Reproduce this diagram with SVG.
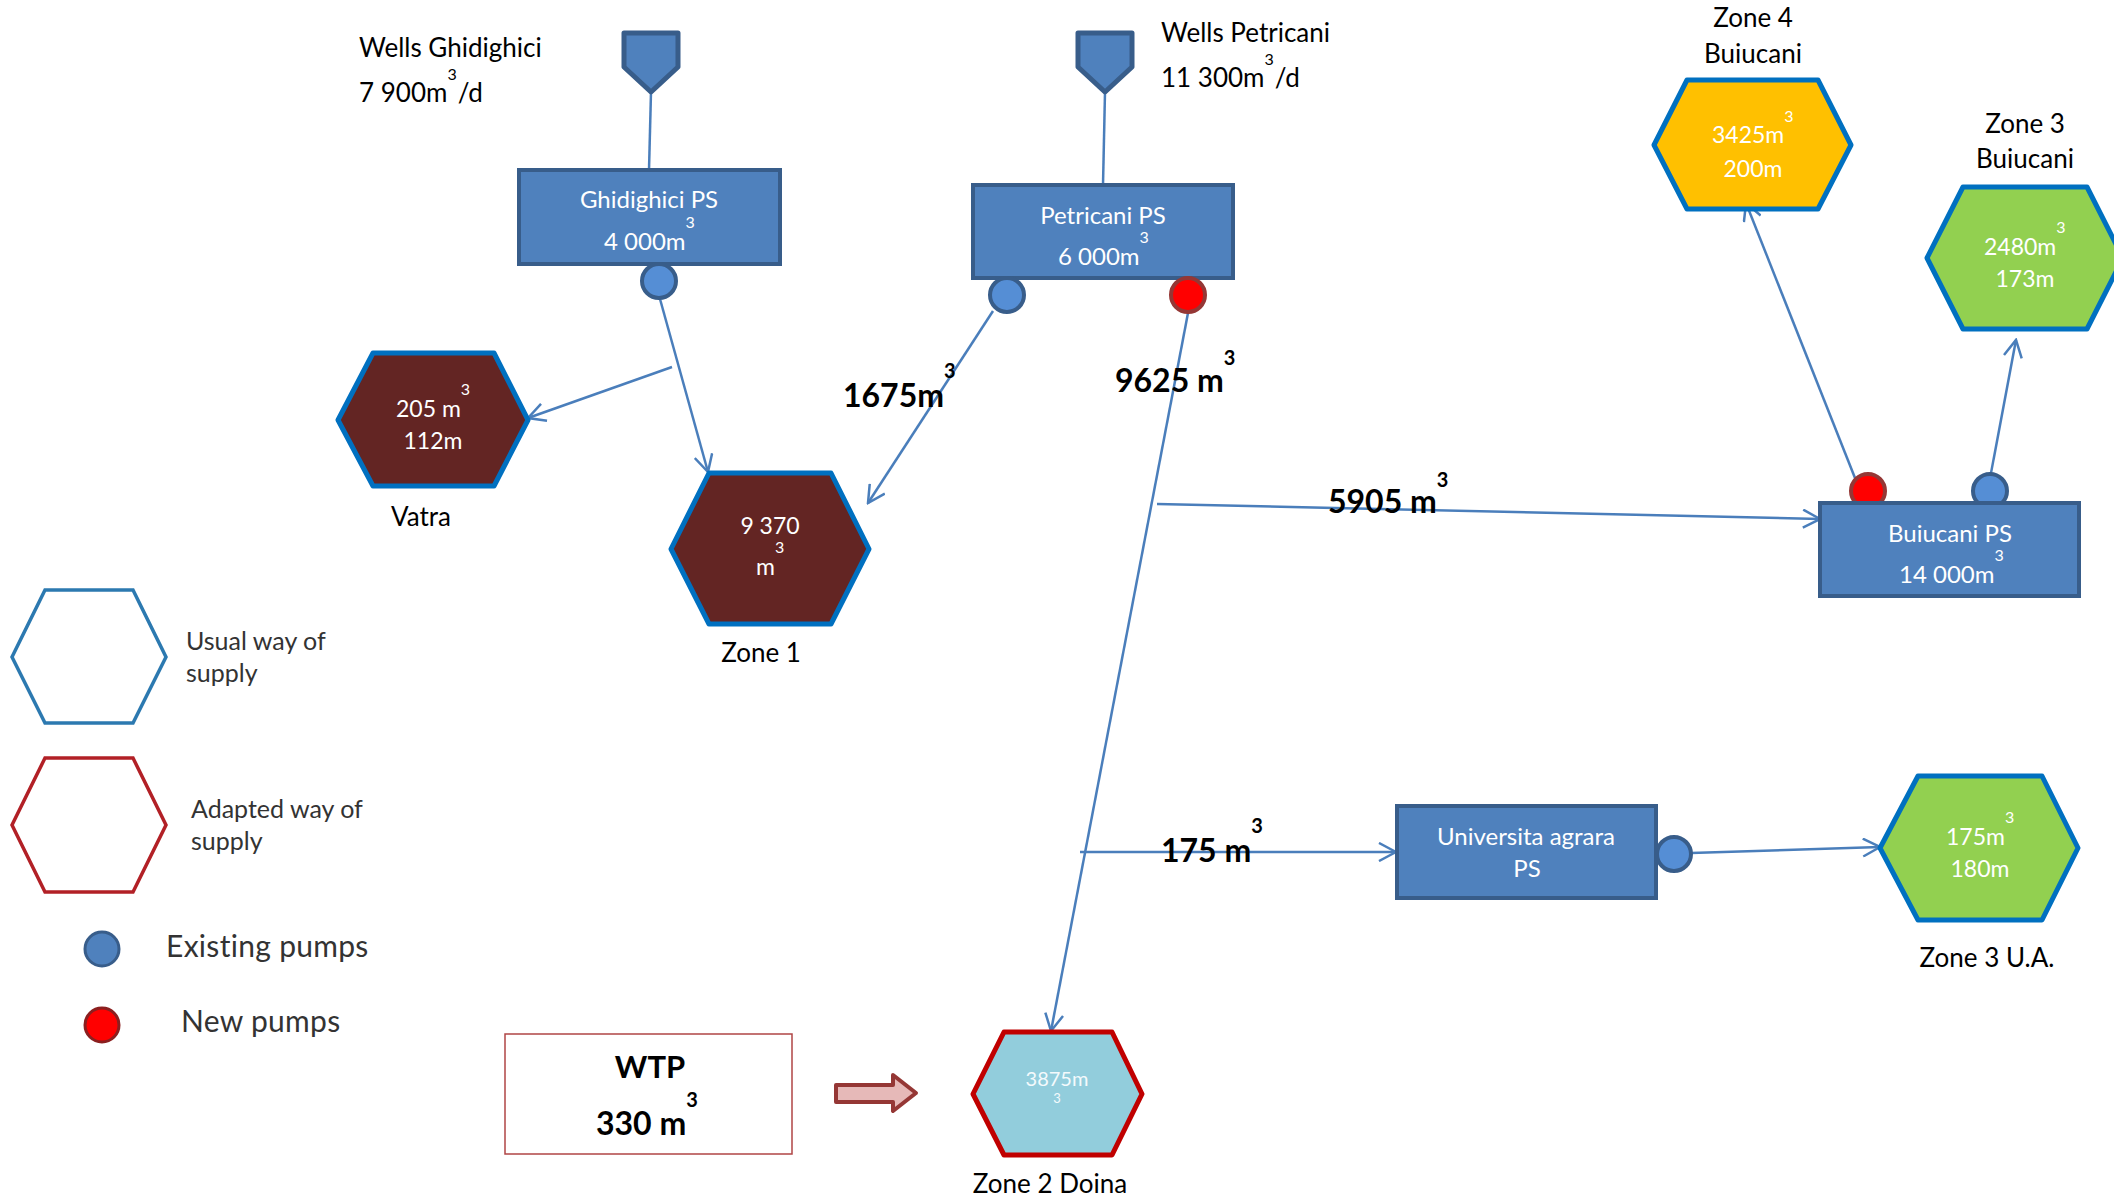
<svg xmlns="http://www.w3.org/2000/svg" width="2114" height="1201" viewBox="0 0 2114 1201">
<defs>
<style>
text{font-family:Lato,"Open Sans","Liberation Sans",sans-serif}
.lbl{font-size:26px;fill:#000}
.in{font-size:24px;fill:#fff}
.hx{font-size:23px;fill:#fff}
.sup{font-size:16px}
.b{font-size:32px;font-weight:bold;fill:#000}
.bs{font-size:20px;font-weight:bold}
.ps{fill:#4f81bd;stroke:#385d8a;stroke-width:4}
.well{fill:#4f81bd;stroke:#385d8a;stroke-width:5;stroke-linejoin:round}
.pe{fill:#558ed5;stroke:#385d8a;stroke-width:4}
.pn{fill:#ff0000;stroke:#953735;stroke-width:4}
.zone{stroke:#0070c0;stroke-width:5;stroke-linejoin:round}
.con{stroke:#4a7ebb;stroke-width:2.5;fill:none}
.arr{marker-end:url(#ah)}
.leg{font-size:25px;fill:#333}
.leg2{font-size:30px;fill:#333;letter-spacing:0.3px}
</style>
<marker id="ah" viewBox="0 0 20 20" refX="18" refY="10" markerWidth="20" markerHeight="20" markerUnits="userSpaceOnUse" orient="auto">
<path d="M1,1 L18,10 L1,19" fill="none" stroke="#4a7ebb" stroke-width="2.5"/>
</marker>
</defs>
<rect width="2114" height="1201" fill="#fff"/>

<g id="connectors">
<line class="con" x1="651" y1="92" x2="649" y2="170"/>
<line class="con" x1="1105" y1="92" x2="1103" y2="185"/>
<line class="con arr" x1="660" y1="299" x2="708" y2="472"/>
<line class="con arr" x1="672" y1="367" x2="528" y2="418"/>
<line class="con arr" x1="993" y1="311" x2="868" y2="503"/>
<line class="con arr" x1="1188" y1="313" x2="1051" y2="1031"/>
<line class="con arr" x1="1157" y1="504" x2="1820" y2="519"/>
<line class="con arr" x1="1080" y1="852" x2="1396" y2="852"/>
<line class="con arr" x1="1691" y1="853" x2="1880" y2="847"/>
<line class="con arr" x1="1855" y1="478" x2="1746" y2="203"/>
<line class="con arr" x1="1991" y1="473" x2="2016" y2="340"/>
<text class="b" x="843" y="407">1675m<tspan class="bs" dy="-29">3</tspan></text>
<text class="b" x="1115" y="392">9625 m<tspan class="bs" dy="-27">3</tspan></text>
<text class="b" x="1328" y="513">5905 m<tspan class="bs" dy="-26">3</tspan></text>
<text class="b" x="1161" y="862">175 m<tspan class="bs" dy="-29">3</tspan></text>
</g>

<g id="wells-ghidighici">
<path class="well" d="M624,33 H678 V67 L651,92 L624,67 Z"/>
<text class="lbl" x="359" y="57">Wells Ghidighici</text>
<text class="lbl" x="359" y="102">7 900m<tspan class="sup" dy="-22">3</tspan><tspan dy="22" dx="1">/d</tspan></text>
</g>

<g id="wells-petricani">
<path class="well" d="M1078,33 H1132 V67 L1105,92 L1078,67 Z"/>
<text class="lbl" x="1161" y="42">Wells Petricani</text>
<text class="lbl" x="1161" y="87">11 300m<tspan class="sup" dy="-22">3</tspan><tspan dy="22" dx="1">/d</tspan></text>
</g>

<g id="ghidighici-ps">
<rect class="ps" x="519" y="170" width="261" height="94"/>
<text class="in" x="649" y="208" text-anchor="middle">Ghidighici PS</text>
<text class="in" x="604" y="250">4 000m<tspan class="sup" dy="-22">3</tspan></text>
<circle class="pe" cx="659" cy="281" r="17"/>
</g>

<g id="petricani-ps">
<rect class="ps" x="973" y="185" width="260" height="93"/>
<text class="in" x="1103" y="224" text-anchor="middle">Petricani PS</text>
<text class="in" x="1058" y="265">6 000m<tspan class="sup" dy="-22">3</tspan></text>
<circle class="pe" cx="1007" cy="295" r="17"/>
<circle class="pn" cx="1188" cy="295" r="17"/>
</g>

<g id="buiucani-ps">
<circle class="pn" cx="1868" cy="491" r="17"/>
<circle class="pe" cx="1990" cy="491" r="17"/>
<rect class="ps" x="1820" y="503" width="259" height="93"/>
<text class="in" x="1950" y="542" text-anchor="middle">Buiucani PS</text>
<text class="in" x="1899" y="583">14 000m<tspan class="sup" dy="-22">3</tspan></text>
</g>

<g id="universita-ps">
<circle class="pe" cx="1674" cy="854" r="17"/>
<rect class="ps" x="1397" y="806" width="259" height="92"/>
<text class="in" x="1526" y="845" text-anchor="middle">Universita agrara</text>
<text class="in" x="1527" y="877" text-anchor="middle">PS</text>
</g>

<g id="vatra">
<polygon class="zone" fill="#632523" points="338,420 373,353 494,353 528,420 494,486 373,486"/>
<text class="hx" x="396" y="417">205 m<tspan class="sup" dy="-22">3</tspan></text>
<text class="hx" x="433" y="449" text-anchor="middle">112m</text>
<text class="lbl" x="421" y="526" text-anchor="middle">Vatra</text>
</g>

<g id="zone1">
<polygon class="zone" fill="#632523" points="671,549 709,473 831,473 869,549 831,624 709,624"/>
<text class="hx" x="770" y="534" text-anchor="middle">9 370</text>
<text class="hx" x="756" y="575">m<tspan class="sup" dy="-22">3</tspan></text>
<text class="lbl" x="761" y="662" text-anchor="middle">Zone 1</text>
</g>

<g id="zone4">
<polygon class="zone" fill="#ffc000" points="1654,145 1687,80 1818,80 1851,145 1818,209 1687,209"/>
<text class="hx" x="1712" y="143">3425m<tspan class="sup" dy="-21">3</tspan></text>
<text class="hx" x="1753" y="177" text-anchor="middle">200m</text>
<text class="lbl" x="1753" y="27" text-anchor="middle" font-size="27">Zone 4</text>
<text class="lbl" x="1753" y="63" text-anchor="middle">Buiucani</text>
</g>

<g id="zone3">
<polygon class="zone" fill="#92d050" points="1927,258 1963,187 2087,187 2123,258 2087,329 1963,329"/>
<text class="hx" x="1984" y="255">2480m<tspan class="sup" dy="-22">3</tspan></text>
<text class="hx" x="2025" y="287" text-anchor="middle">173m</text>
<text class="lbl" x="2025" y="133" text-anchor="middle">Zone 3</text>
<text class="lbl" x="2025" y="168" text-anchor="middle">Buiucani</text>
</g>

<g id="zone3ua">
<polygon class="zone" fill="#92d050" points="1880,848 1918,776 2042,776 2078,848 2042,920 1918,920"/>
<text class="hx" x="1946" y="845">175m<tspan class="sup" dy="-22">3</tspan></text>
<text class="hx" x="1980" y="877" text-anchor="middle">180m</text>
<text class="lbl" x="1987" y="967" text-anchor="middle" font-size="29">Zone 3 U.A.</text>
</g>

<g id="zone2">
<polygon points="973,1094 1004,1032 1112,1032 1142,1094 1112,1155 1004,1155" fill="#92cddc" stroke="#c00000" stroke-width="5" stroke-linejoin="round"/>
<text x="1057" y="1086" text-anchor="middle" font-size="20" fill="#f4fafc">3875m</text>
<text x="1057" y="1103" text-anchor="middle" font-size="13" fill="#f4fafc">3</text>
<text class="lbl" x="1050" y="1193" text-anchor="middle" font-size="29">Zone 2 Doina</text>
</g>

<g id="wtp">
<rect x="505" y="1034" width="287" height="120" fill="#fff" stroke="#b04545" stroke-width="1.5"/>
<text x="650" y="1078" text-anchor="middle" font-size="31" font-weight="bold" fill="#000">WTP</text>
<text x="596" y="1135" font-size="32" font-weight="bold" fill="#000">330 m<tspan class="bs" dy="-28">3</tspan></text>
</g>

<g id="wtp-arrow">
<polygon points="836,1085 893,1085 893,1075 916,1093 893,1111 893,1102 836,1102" fill="#e6b9b8" stroke="#953735" stroke-width="4" stroke-linejoin="round"/>
</g>

<g id="legend">
<polygon points="12,657 45,590 133,590 166,657 133,723 45,723" fill="#fff" stroke="#2c79b0" stroke-width="3.5"/>
<text class="leg" x="186" y="650">Usual way of</text>
<text class="leg" x="186" y="682">supply</text>
<polygon points="12,825 45,758 133,758 166,825 133,892 45,892" fill="#fff" stroke="#b22026" stroke-width="3.5"/>
<text class="leg" x="191" y="818">Adapted way of</text>
<text class="leg" x="191" y="850">supply</text>
<circle cx="102" cy="949" r="17" fill="#4f81bd" stroke="#385d8a" stroke-width="3"/>
<text class="leg2" x="166" y="957">Existing pumps</text>
<circle cx="102" cy="1025" r="17" fill="#ff0000" stroke="#8b1f1f" stroke-width="3"/>
<text class="leg2" x="181" y="1032">New pumps</text>
</g>
</svg>
